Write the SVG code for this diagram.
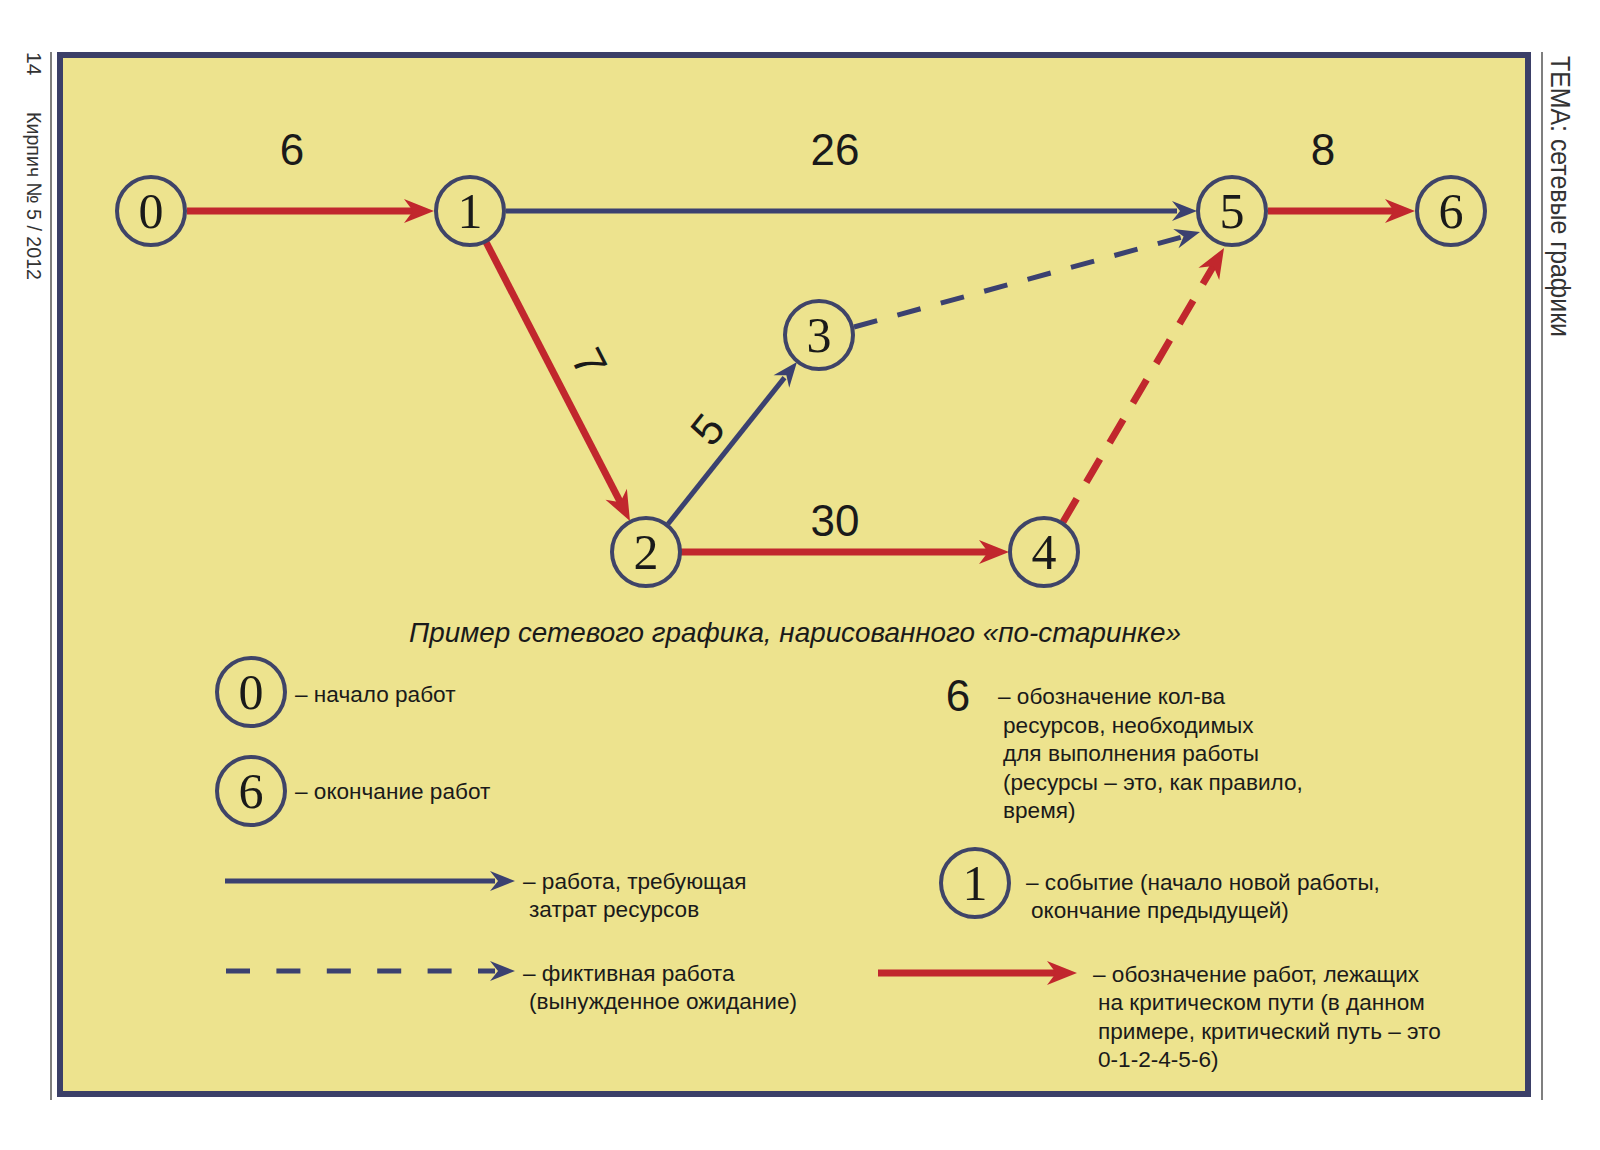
<svg xmlns="http://www.w3.org/2000/svg" width="1600" height="1150" viewBox="0 0 1600 1150">
<style>
.node circle{fill:#ede38e;stroke:#3f4468;stroke-width:4}
.nd{font-family:"Liberation Serif","DejaVu Serif",serif;font-size:50px;fill:#1a1a1a;text-anchor:middle}
.lbl{font-family:"Liberation Sans","DejaVu Sans",sans-serif;font-size:44px;fill:#1a1a1a;text-anchor:middle}
.txt{font-family:"Liberation Sans","DejaVu Sans",sans-serif;font-size:22.6px;fill:#1a1a1a}
.side{font-family:"Liberation Sans","DejaVu Sans",sans-serif;fill:#333}
.red{stroke:#c1272d;stroke-width:7;fill:none;marker-end:url(#ar)}
.navy{stroke:#3b4170;stroke-width:5;fill:none;marker-end:url(#an)}
</style>
<defs>
<marker id="ar" markerUnits="userSpaceOnUse" markerWidth="40" markerHeight="30" viewBox="-12 -15 40 30" refX="0" refY="0" orient="auto"><path d="M20,0 L-10,-12 L-1,0 L-10,12 Z" fill="#c1272d"/></marker>
<marker id="an" markerUnits="userSpaceOnUse" markerWidth="40" markerHeight="30" viewBox="-12 -15 40 30" refX="0" refY="0" orient="auto"><path d="M20,0 L-5,-10 L3,0 L-5,10 Z" fill="#3b4170"/></marker>
</defs>
<rect width="1600" height="1150" fill="#ffffff"/>
<line x1="51" y1="52" x2="51" y2="1100" stroke="#555" stroke-width="1.5"/>
<line x1="1542" y1="52" x2="1542" y2="1100" stroke="#555" stroke-width="1.5"/>
<rect x="60" y="55" width="1468" height="1039" fill="#ede38e" stroke="#3b3f68" stroke-width="6"/>
<text class="side" font-size="21" transform="translate(27,52) rotate(90)">14</text>
<text class="side" font-size="21" textLength="168" lengthAdjust="spacingAndGlyphs" transform="translate(27,112) rotate(90)">Кирпич № 5 / 2012</text>
<text class="side" font-size="28" textLength="281" lengthAdjust="spacingAndGlyphs" transform="translate(1551,56) rotate(90)">ТЕМА: сетевые графики</text>

<g id="connectors">
<path id="e01" class="red" d="M187,211 L414,211"/>
<path id="e15" class="navy" d="M506,211 L1177,211"/>
<path id="e12" class="red" d="M486,242 L620.8,503.2"/>
<path id="e23" class="navy" d="M668,524 L784.5,377.6"/>
<path id="e24" class="red" d="M681,552 L989,552"/>
<path id="e35" class="navy" stroke-dasharray="24 21" d="M854,327 L1180.7,237.3"/>
<path id="e45" class="red" stroke-dasharray="27 19" d="M1063,522 L1213.9,265.2"/>
<path id="e56" class="red" d="M1268,211 L1395,211"/>
</g>

<g id="edge-labels">
<text class="lbl" x="292" y="165">6</text>
<text class="lbl" x="835" y="165">26</text>
<text class="lbl" x="1323" y="165">8</text>
<text class="lbl" x="835" y="536">30</text>
<text class="lbl" transform="translate(590,362) rotate(62.7)" y="16">7</text>
<text class="lbl" transform="translate(707,429) rotate(-51.3)" y="16">5</text>
</g>

<g id="n0" class="node"><circle cx="151" cy="211" r="34"/><text class="nd" x="151" y="228">0</text></g>
<g id="n1" class="node"><circle cx="470" cy="211" r="34"/><text class="nd" x="470" y="228">1</text></g>
<g id="n2" class="node"><circle cx="646" cy="552" r="34"/><text class="nd" x="646" y="569">2</text></g>
<g id="n3" class="node"><circle cx="819" cy="335" r="34"/><text class="nd" x="819" y="352">3</text></g>
<g id="n4" class="node"><circle cx="1044" cy="552" r="34"/><text class="nd" x="1044" y="569">4</text></g>
<g id="n5" class="node"><circle cx="1232" cy="211" r="34"/><text class="nd" x="1232" y="228">5</text></g>
<g id="n6" class="node"><circle cx="1451" cy="211" r="34"/><text class="nd" x="1451" y="228">6</text></g>

<text x="795" y="642" font-family="Liberation Sans, DejaVu Sans, sans-serif" font-style="italic" font-size="28" fill="#1a1a1a" text-anchor="middle" textLength="772" lengthAdjust="spacingAndGlyphs">Пример сетевого графика, нарисованного «по-старинке»</text>

<g id="legend">
<g id="lg0" class="node"><circle cx="251" cy="692" r="34"/><text class="nd" x="251" y="709">0</text></g>
<text class="txt" x="295" y="702">– начало работ</text>
<g id="lg6" class="node"><circle cx="251" cy="791" r="34"/><text class="nd" x="251" y="808">6</text></g>
<text class="txt" x="295" y="799">– окончание работ</text>

<path class="navy" stroke-width="6" d="M225,881 L495,881"/>
<text class="txt" x="523" y="889">– работа, требующая</text>
<text class="txt" x="529" y="917">затрат ресурсов</text>

<path class="navy" stroke-width="6" stroke-dasharray="24 26.4" d="M226,971 L495,971"/>
<text class="txt" x="523" y="981">– фиктивная работа</text>
<text class="txt" x="529" y="1009">(вынужденное ожидание)</text>

<text class="lbl" x="958" y="711">6</text>
<text class="txt" x="998" y="704">– обозначение кол-ва</text>
<text class="txt" x="1003" y="733">ресурсов, необходимых</text>
<text class="txt" x="1003" y="761">для выполнения работы</text>
<text class="txt" x="1003" y="790">(ресурсы – это, как правило,</text>
<text class="txt" x="1003" y="818">время)</text>

<g id="lg1" class="node"><circle cx="975" cy="883" r="34"/><text class="nd" x="975" y="900">1</text></g>
<text class="txt" x="1026" y="890">– событие (начало новой работы,</text>
<text class="txt" x="1031" y="918">окончание предыдущей)</text>

<path class="red" stroke-width="8" d="M878,973 L1057,973"/>
<text class="txt" x="1093" y="982">– обозначение работ, лежащих</text>
<text class="txt" x="1098" y="1010">на критическом пути (в данном</text>
<text class="txt" x="1098" y="1039">примере, критический путь – это</text>
<text class="txt" x="1098" y="1067">0-1-2-4-5-6)</text>
</g>
</svg>
